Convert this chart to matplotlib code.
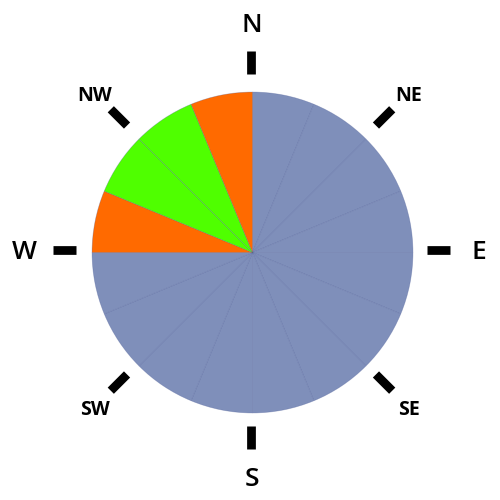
import numpy as np
import matplotlib.pyplot as plt

# 16 wind sectors, clockwise from north
sector_values = [1] * 16
sector_colors = ['#7f8fba'] * 12 + ['#ff6a00', '#4fff00', '#4fff00', '#ff6a00']

compass_labels = ['N', 'NE', 'E', 'SE', 'S', 'SW', 'W', 'NW']
compass_angles = [0, 45, 90, 135, 180, 225, 270, 315]

fig = plt.figure(figsize=(5, 5), dpi=100)

# rose
ax = fig.add_axes([0.005, -0.005, 1, 1], projection='polar')
ax.set_theta_zero_location('N')
ax.set_theta_direction(-1)
width = 2 * np.pi / len(sector_values)
theta = np.arange(len(sector_values)) * width + width / 2
ax.bar(theta, sector_values, width=width, color=sector_colors,
       edgecolor=(0.28, 0.34, 0.58, 0.35), linewidth=0.5)
ax.set_ylim(0, 1.558)

# compass ticks and labels (radius in pixels)
ax2 = fig.add_axes([0.003, 0.0, 1, 1], projection='polar')
ax2.set_theta_zero_location('N')
ax2.set_theta_direction(-1)
ax2.patch.set_alpha(0)
for lab, ang in zip(compass_labels, compass_angles):
    t = np.deg2rad(ang)
    ax2.plot([t, t], [176, 199], color='black', lw=6.3, solid_capstyle='butt')
    if len(lab) == 1:
        ax2.annotate(lab, xy=(t, 227), xytext=(0, -2), textcoords='offset points',
                     ha='center', va='center', fontsize=19,
                     family='Open Sans', fontweight='semibold')
    else:
        ax2.annotate(lab, xy=(t, 222), xytext=(0, -2), textcoords='offset points',
                     ha='center', va='center', fontsize=14,
                     family='Open Sans', fontweight='bold')
ax2.set_ylim(0, 250)

for a in (ax, ax2):
    a.grid(False)
    a.set_xticks([])
    a.set_yticks([])
    a.spines['polar'].set_visible(False)

plt.savefig('out.png')
